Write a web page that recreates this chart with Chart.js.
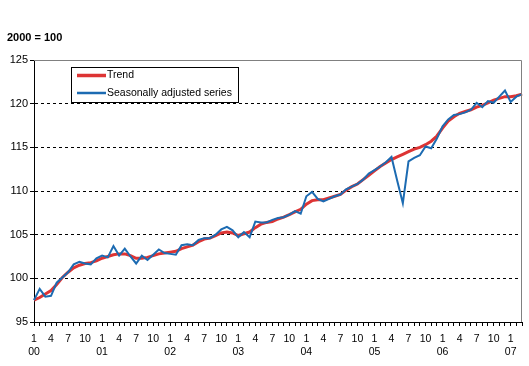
<!DOCTYPE html>
<html>
<head>
<meta charset="utf-8">
<script src="https://cdn.jsdelivr.net/npm/chart.js@4/dist/chart.umd.min.js"></script>
<style>
  body { margin: 0; background: #fff; }
  canvas { display: block; }
</style>
</head>
<body>
<canvas id="chart" width="529" height="366"></canvas>
<script>
// Monthly index, 2000 = 100, Jan 2000 .. Mar 2007
const years = ['00', '01', '02', '03', '04', '05', '06', '07'];
const monthTicks = ['1', '4', '7', '10'];

const trend = [
    97.5, 97.8, 98.2, 98.6, 99.3, 100.1, 100.7, 101.2, 101.5, 101.7, 101.8, 102.0,
    102.3, 102.5, 102.7, 102.8, 102.8, 102.6, 102.3, 102.3, 102.4, 102.6, 102.8, 102.9,
    103.0, 103.1, 103.4, 103.6, 103.8, 104.2, 104.5, 104.6, 104.9, 105.2, 105.3, 105.2,
    104.9, 105.1, 105.3, 105.8, 106.2, 106.4, 106.5, 106.8, 107.0, 107.3, 107.6, 107.9,
    108.5, 108.9, 109.0, 109.0, 109.2, 109.4, 109.6, 110.1, 110.5, 110.8, 111.3, 111.8,
    112.3, 112.8, 113.2, 113.6, 113.9, 114.2, 114.5, 114.8, 115.0, 115.3, 115.7, 116.3,
    117.2, 118.0, 118.5, 118.9, 119.1, 119.3, 119.6, 119.8, 120.1, 120.4, 120.6, 120.8,
    120.8, 120.9, 121.1
];

const seasonallyAdjusted = [
    97.5, 98.8, 97.9, 98.0, 99.5, 100.1, 100.7, 101.6, 101.9, 101.7, 101.6, 102.3,
    102.6, 102.4, 103.7, 102.6, 103.4, 102.5, 101.7, 102.6, 102.1, 102.7, 103.3, 102.9,
    102.8, 102.7, 103.8, 103.9, 103.8, 104.4, 104.6, 104.6, 105.0, 105.6, 105.9, 105.5,
    104.7, 105.3, 104.7, 106.5, 106.4, 106.4, 106.7, 106.9, 107.0, 107.3, 107.7, 107.4,
    109.4, 109.9, 109.1, 108.8, 109.1, 109.4, 109.6, 110.2, 110.5, 110.8, 111.3, 112.0,
    112.4, 112.8, 113.3, 113.9, 111.2, 108.6, 113.4, 113.8, 114.1, 115.1, 114.9, 116.0,
    117.4, 118.2, 118.7, 118.8, 119.0, 119.3, 120.1, 119.6, 120.3, 120.1, 120.8, 121.5,
    120.2, 120.8, 121.1
];

// category labels: month number every third month, year under January
const labels = trend.map((v, i) => {
    const m = i % 12;
    if (m === 0) return [monthTicks[0], years[i / 12]];
    if (m % 3 === 0) return monthTicks[m / 3];
    return '';
});

const FONT = '"Liberation Sans", Arial, sans-serif';

// title, plot frame and legend box drawn on the canvas
const decorations = {
    id: 'decorations',
    afterDraw(chart) {
        const ctx = chart.ctx;
        const area = chart.chartArea;
        ctx.save();

        ctx.fillStyle = '#000';
        ctx.font = 'bold 11px ' + FONT;
        ctx.textBaseline = 'middle';
        ctx.textAlign = 'left';
        ctx.fillText('2000 = 100', 7, 37.5);

        // grey top and right frame
        ctx.strokeStyle = '#808080';
        ctx.lineWidth = 1;
        ctx.beginPath();
        ctx.moveTo(area.left, area.top + 0.5);
        ctx.lineTo(area.right - 0.5, area.top + 0.5);
        ctx.lineTo(area.right - 0.5, area.bottom);
        ctx.stroke();

        // legend
        const bx = 71.5, by = 67.5, bw = 167, bh = 35;
        ctx.fillStyle = '#fff';
        ctx.fillRect(bx, by, bw, bh);
        ctx.strokeStyle = '#000';
        ctx.strokeRect(bx, by, bw, bh);
        const rows = [75.5, 93];
        chart.data.datasets.forEach((ds, i) => {
            ctx.strokeStyle = ds.borderColor;
            ctx.lineWidth = ds.legendWidth;
            ctx.beginPath();
            ctx.moveTo(77, rows[i]);
            ctx.lineTo(106, rows[i]);
            ctx.stroke();
            ctx.fillStyle = '#000';
            ctx.font = '10.5px ' + FONT;
            ctx.fillText(ds.label, 107, rows[i]);
        });
        ctx.restore();
    }
};

const ctx = document.getElementById('chart').getContext('2d');
new Chart(ctx, {
    type: 'line',
    data: {
        labels: labels,
        datasets: [
            {
                label: 'Trend',
                data: trend,
                borderColor: '#DD3434',
                borderWidth: 3,
                legendWidth: 3.5,
                pointRadius: 0,
                tension: 0,
                order: 1
            },
            {
                label: 'Seasonally adjusted series',
                data: seasonallyAdjusted,
                borderColor: '#1C6BB2',
                borderWidth: 2,
                legendWidth: 2.5,
                pointRadius: 0,
                tension: 0,
                order: 0
            }
        ]
    },
    options: {
        responsive: false,
        animation: false,
        layout: { padding: { top: 60, right: 6, left: 0, bottom: 0 } },
        plugins: {
            legend: { display: false },
            tooltip: { enabled: false }
        },
        scales: {
            x: {
                offset: false,
                afterFit: (scale) => { scale.height = 44; },
                grid: {
                    drawOnChartArea: false,
                    drawTicks: true,
                    tickLength: 4,
                    tickColor: '#000'
                },
                border: { color: '#000', width: 1 },
                ticks: {
                    autoSkip: false,
                    maxRotation: 0,
                    padding: 7,
                    color: '#000',
                    font: { family: FONT, size: 10.5 }
                }
            },
            y: {
                min: 95,
                max: 125,
                afterFit: (scale) => { scale.width = 34; },
                grid: {
                    color: (c) => (c.tick && (c.tick.value === 95 || c.tick.value === 125)) ? 'rgba(0,0,0,0)' : '#000',
                    tickLength: 4,
                    tickColor: '#000'
                },
                border: { color: '#000', width: 1, dash: [3, 3] },
                ticks: {
                    stepSize: 5,
                    padding: 2,
                    color: '#000',
                    font: { family: FONT, size: 11 }
                }
            }
        }
    },
    plugins: [decorations]
});
</script>
</body>
</html>
